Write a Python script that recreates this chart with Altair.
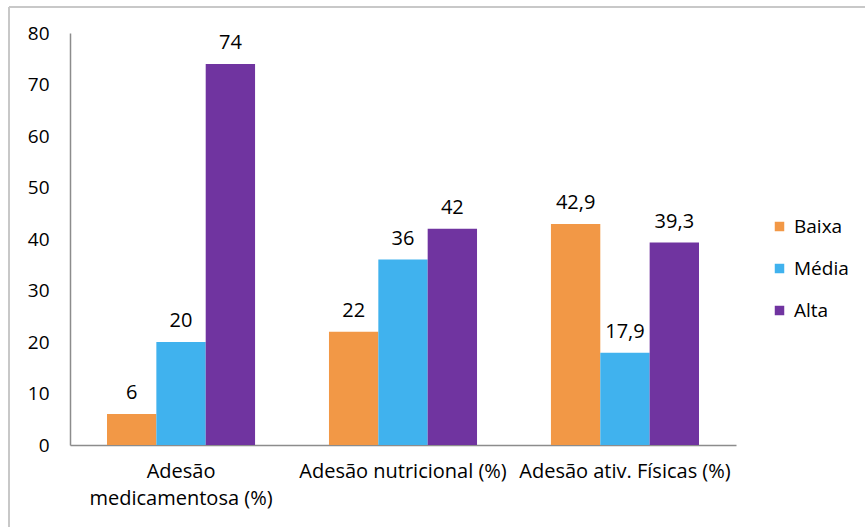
import altair as alt
import pandas as pd

categories = ["Adesão|medicamentosa (%)", "Adesão nutricional (%)", "Adesão ativ. Físicas (%)"]
levels = ["Baixa", "Média", "Alta"]
baixa = [6, 22, 42.9]
media = [20, 36, 17.9]
alta = [74, 42, 39.3]
labels_baixa = ["6", "22", "42,9"]
labels_media = ["20", "36", "17,9"]
labels_alta = ["74", "42", "39,3"]
colors = ["#F29846", "#40B2EE", "#7034A0"]

rows = []
for i, c in enumerate(categories):
    for lev, vals, labs in [("Baixa", baixa, labels_baixa), ("Média", media, labels_media), ("Alta", alta, labels_alta)]:
        rows.append({"cat": c, "nivel": lev, "valor": vals[i], "rotulo": labs[i]})
df = pd.DataFrame(rows)

FONT = "Open Sans"
FS = 20
FW = 500
W, H = 666, 412

x = alt.X("cat:N", sort=categories, title=None,
          scale=alt.Scale(paddingInner=0.333, paddingOuter=0.1667),
          axis=alt.Axis(labelAngle=0, ticks=False, domainColor="#8c8c8c", domainWidth=1.5,
                        labelFont=FONT, labelFontSize=FS, labelFontWeight=FW, labelColor="#000",
                        labelPadding=16, labelExpr="split(datum.label, '|')", labelLimit=300,
                        labelLineHeight=27))
xo = alt.XOffset("nivel:N", sort=levels, scale=alt.Scale(paddingInner=0, paddingOuter=0))
y = alt.Y("valor:Q", title=None,
          scale=alt.Scale(domain=[0, 80], nice=False),
          axis=alt.Axis(values=list(range(0, 81, 10)), ticks=False, grid=False,
                        domainColor="#8c8c8c", domainWidth=1.5,
                        labelFont=FONT, labelFontSize=FS - 1, labelFontWeight=FW,
                        labelColor="#000", labelPadding=21))
color = alt.Color("nivel:N", sort=levels, title=None,
                  scale=alt.Scale(domain=levels, range=colors),
                  legend=alt.Legend(orient="none", legendX=700, legendY=184, symbolType="square",
                                    symbolSize=90, symbolStrokeWidth=0, labelFont=FONT,
                                    labelFontSize=FS - 1, labelFontWeight=FW, labelColor="#000",
                                    rowPadding=22, labelOffset=5))

base = alt.Chart(df)
bars = base.mark_bar(stroke=None).encode(x=x, xOffset=xo, y=y, color=color)
text = base.mark_text(font=FONT, fontSize=FS, fontWeight=FW, color="#000",
                      baseline="alphabetic", dy=-15).encode(
    x=alt.X("cat:N", sort=categories), xOffset=alt.XOffset("nivel:N", sort=levels), y="valor:Q",
    text="rotulo:N")

border_top = alt.Chart(df).mark_rule(color="#c8c8c8", strokeWidth=2).encode(
    x=alt.value(-61), x2=alt.value(800), y=alt.value(-26))
border_left = alt.Chart(df).mark_rule(color="#c8c8c8", strokeWidth=2).encode(
    x=alt.value(-61), y=alt.value(-26), y2=alt.value(500))

chart = alt.layer(bars, text, border_top, border_left).properties(
    width=W, height=H,
    autosize=alt.AutoSizeParams(type="none"),
    padding={"left": 70, "top": 33, "right": 865 - 70 - W, "bottom": 527 - 33 - H},
    background="white",
).configure_view(stroke=None)

chart.save("out.html", embed_options={"renderer": "svg", "actions": False})
